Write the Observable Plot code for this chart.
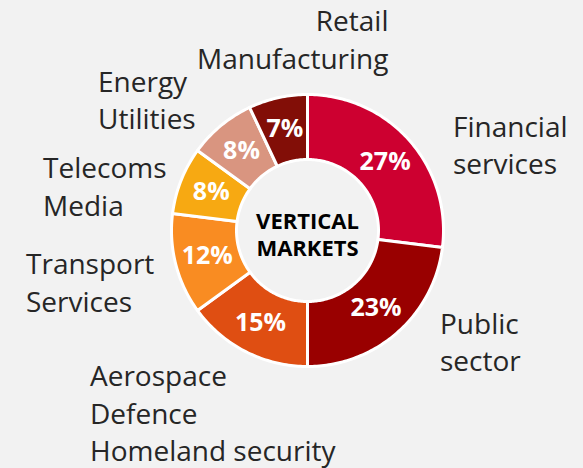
<!DOCTYPE html>
<html>
<head>
<meta charset="utf-8">
<script src="https://cdn.jsdelivr.net/npm/d3@7"></script>
<script src="https://cdn.jsdelivr.net/npm/@observablehq/plot@0.6"></script>
<style>
  html, body { margin: 0; padding: 0; background: #f2f2f2; }
  #chart svg { display: block; background: #f2f2f2; }
</style>
</head>
<body>
<div id="chart"></div>
<script>
// ---- data ----
const categories = ["Financial services", "Public sector", "Aerospace Defence Homeland security", "Transport Services", "Telecoms Media", "Energy Utilities", "Retail Manufacturing"];
const labelLines = ["Financial\nservices", "Public\nsector", "Aerospace\nDefence\nHomeland security", "Transport\nServices", "Telecoms\nMedia", "Energy\nUtilities", "Retail\nManufacturing"];
const shares = [27, 23, 15, 12, 8, 8, 7];
const colors = ["#cd0030", "#990000", "#df4e12", "#f98c22", "#f7a912", "#d99580", "#820e07"];
const centerTitle = "VERTICAL\nMARKETS";

// ---- layout ----
const W = 583, H = 468;
const CX = 307, CY = 230, R_OUT = 136, R_IN = 71, R_LABEL = 150;
// per-label nudges (dx, dy) from a polar anchor, and text anchor
const nudges = [[33.0, 12.0], [33.3, -2.7], [-149.4, 47.6], [-136.2, 13.0], [-125.0, 9.5], [-113.9, -16.6], [113.7, -46.3]];
const anchors = ["start", "start", "start", "start", "start", "start", "end"];

const rows = categories.map((c, i) => ({name: c, value: shares[i], label: labelLines[i], i}));
const arcs = d3.pie().sort(null).value(d => d.value)(rows);

const polar = (a, r) => [CX + r * Math.sin(a), CY - r * Math.cos(a)];

// polygon outline for each slice, derived from pie angles
const pts = [];
for (const a of arcs) {
  const n = Math.max(4, Math.ceil((a.endAngle - a.startAngle) / (Math.PI / 180)));
  const ring = [];
  for (let k = 0; k <= n; k++) ring.push(polar(a.startAngle + (a.endAngle - a.startAngle) * k / n, R_OUT));
  for (let k = n; k >= 0; k--) ring.push(polar(a.startAngle + (a.endAngle - a.startAngle) * k / n, R_IN));
  ring.push(ring[0]);
  ring.forEach(([x, y]) => pts.push({name: a.data.name, x, y}));
}

const centroids = arcs.map(a => {
  const m = (a.startAngle + a.endAngle) / 2;
  const [x, y] = polar(m, (R_OUT + R_IN) / 2);
  return {x, y, text: a.data.value + "%"};
});

const labelAnchors = arcs.map(a => {
  const m = (a.startAngle + a.endAngle) / 2;
  const [x, y] = polar(m, R_LABEL);
  return {x, y, text: a.data.label, i: a.data.i};
});

const labelMarks = labelAnchors.map(d => Plot.text([d], {
  x: "x", y: "y", text: "text",
  dx: nudges[d.i][0], dy: nudges[d.i][1],
  textAnchor: anchors[d.i], lineAnchor: "middle", lineHeight: 1.34,
  fontSize: 28, fontFamily: "Open Sans", fill: "#262626"
}));

const chart = Plot.plot({
  width: W, height: H, margin: 0,
  style: {background: "#f2f2f2", overflow: "visible"},
  x: {domain: [0, W], range: [0, W], axis: null},
  y: {domain: [0, H], range: [0, H], axis: null},
  color: {domain: categories, range: colors},
  marks: [
    Plot.line(pts, {x: "x", y: "y", z: "name", fill: "name", stroke: "white", strokeWidth: 3, strokeLinejoin: "round", curve: "linear"}),
    Plot.text(centroids, {x: "x", y: "y", text: "text", fill: "white", fontWeight: "bold", fontSize: 25, fontFamily: "Open Sans"}),
    Plot.text([{x: CX, y: CY, text: centerTitle}], {x: "x", y: "y", text: "text", dy: 3, lineHeight: 1.23, fontSize: 22, fontWeight: "bold", fontFamily: "Open Sans", fill: "#000"}),
    ...labelMarks
  ]
});
document.getElementById("chart").appendChild(chart);
</script>
</body>
</html>
